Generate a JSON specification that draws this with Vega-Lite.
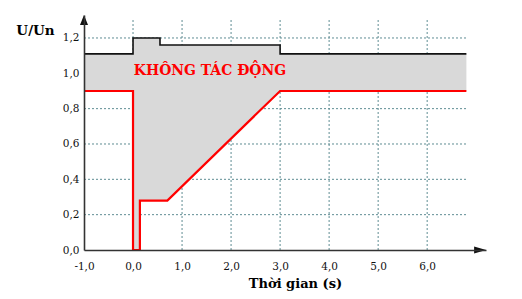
{
  "$schema": "https://vega.github.io/schema/vega-lite/v6.json",
  "width": 402,
  "height": 235,
  "autosize": {"type": "none"},
  "padding": {"left": 84, "top": 15, "right": 36, "bottom": 49},
  "background": "white",
  "config": {
    "view": {"stroke": null},
    "locale": {"number": {"decimal": ",", "thousands": ".", "grouping": [3], "currency": ["", ""], "minus": "-"}},
    "axis": {"labelOverlap": false, "labelFlush": false}
  },
  "datasets": {
    "curve": [
      {"i": 1, "t": -1, "lo": 0.9, "hi": 1.11},
      {"i": 2, "t": 0, "lo": 0.9, "hi": 1.11},
      {"i": 3, "t": 0, "lo": 0, "hi": 1.2},
      {"i": 4, "t": 0.14, "lo": 0, "hi": 1.2},
      {"i": 5, "t": 0.14, "lo": 0.28, "hi": 1.2},
      {"i": 6, "t": 0.55, "lo": 0.28, "hi": 1.2},
      {"i": 7, "t": 0.55, "lo": 0.28, "hi": 1.16},
      {"i": 8, "t": 0.7, "lo": 0.28, "hi": 1.16},
      {"i": 9, "t": 3, "lo": 0.9, "hi": 1.16},
      {"i": 10, "t": 3, "lo": 0.9, "hi": 1.11},
      {"i": 11, "t": 6.8, "lo": 0.9, "hi": 1.11}
    ],
    "vgrid": [{"g": 0}, {"g": 1}, {"g": 2}, {"g": 3}, {"g": 4}, {"g": 5}, {"g": 6}],
    "hgrid": [{"g": 0.2}, {"g": 0.4}, {"g": 0.6}, {"g": 0.8}, {"g": 1.0}, {"g": 1.2}]
  },
  "layer": [
    {
      "data": {"name": "hgrid"},
      "mark": {"type": "rule", "color": "#5f8d93", "strokeDash": [2, 2], "strokeWidth": 1},
      "encoding": {
        "y": {"field": "g", "type": "quantitative", "scale": {"domain": [0, 1.33], "nice": false, "zero": false},
          "axis": {"values": [0, 0.2, 0.4, 0.6, 0.8, 1.0, 1.2], "tickCount": 20, "format": ".1f",
            "labelOverlap": false, "grid": false, "ticks": false, "tickSize": 0, "domainColor": "#333333", "domainWidth": 1.6,
            "labelFont": "DejaVu Serif", "labelFontSize": 10.5, "labelColor": "#111111", "labelPadding": 5,
            "title": "U/Un", "titleFont": "DejaVu Serif", "titleFontSize": 13.5, "titleFontWeight": "bold",
            "titleColor": "#000000", "titleAngle": 0, "titleAlign": "center", "titleBaseline": "alphabetic",
            "titleX": -49, "titleY": 19, "zindex": 1}},
        "x": {"datum": -1, "type": "quantitative", "scale": {"domain": [-1, 7.2], "nice": false, "zero": false},
          "axis": {"values": [-1, 0, 1, 2, 3, 4, 5, 6], "tickCount": 20, "format": ".1f",
            "labelOverlap": false, "grid": false, "ticks": false, "tickSize": 0, "domainColor": "#333333", "domainWidth": 1.6,
            "labelFont": "DejaVu Serif", "labelFontSize": 10.5, "labelColor": "#111111", "labelPadding": 11,
            "title": "Thời gian (s)", "titleFont": "DejaVu Serif", "titleFontSize": 13, "titleFontWeight": "bold",
            "titleColor": "#000000", "titleAlign": "center", "titleBaseline": "alphabetic", "titleX": 211, "titleY": 37,
            "zindex": 1}},
        "x2": {"datum": 6.8}
      }
    },
    {
      "data": {"name": "vgrid"},
      "mark": {"type": "rule", "color": "#5f8d93", "strokeDash": [2, 2], "strokeWidth": 1},
      "encoding": {
        "x": {"field": "g", "type": "quantitative"},
        "y": {"datum": 0, "type": "quantitative"},
        "y2": {"datum": 1.31}
      }
    },
    {
      "data": {"name": "curve"},
      "mark": {"type": "area", "color": "#d9d9d9", "opacity": 1},
      "encoding": {
        "x": {"field": "t", "type": "quantitative"},
        "y": {"field": "lo", "type": "quantitative"},
        "y2": {"field": "hi"}
      }
    },
    {
      "data": {"name": "curve"},
      "mark": {"type": "line", "color": "#111111", "strokeWidth": 1.6},
      "encoding": {
        "x": {"field": "t", "type": "quantitative"},
        "y": {"field": "hi", "type": "quantitative"},
        "order": {"field": "i", "type": "quantitative"}
      }
    },
    {
      "data": {"name": "curve"},
      "mark": {"type": "line", "color": "#ff0000", "strokeWidth": 2.2},
      "encoding": {
        "x": {"field": "t", "type": "quantitative"},
        "y": {"field": "lo", "type": "quantitative"},
        "order": {"field": "i", "type": "quantitative"}
      }
    },
    {
      "data": {"values": [{}]},
      "mark": {"type": "text", "text": "KHÔNG TÁC ĐỘNG", "font": "DejaVu Serif Condensed", "fontSize": 15.5, "fontWeight": "bold", "color": "#ff0000", "align": "center", "baseline": "middle"},
      "encoding": {
        "x": {"datum": 1.57, "type": "quantitative"},
        "y": {"datum": 1.02, "type": "quantitative"}
      }
    },
    {
      "data": {"values": [{}]},
      "mark": {"type": "point", "shape": "M1,0L-1,-0.6L-1,0.6Z", "size": 144, "filled": true, "color": "#111111", "opacity": 1, "strokeWidth": 0},
      "encoding": {
        "x": {"datum": 7.08, "type": "quantitative"},
        "y": {"datum": 0, "type": "quantitative"}
      }
    },
    {
      "data": {"values": [{}]},
      "mark": {"type": "point", "shape": "M0,-1L-0.8,1L0.8,1Z", "size": 100, "filled": true, "color": "#111111", "opacity": 1, "strokeWidth": 0},
      "encoding": {
        "x": {"datum": -1, "type": "quantitative"},
        "y": {"datum": 1.302, "type": "quantitative"}
      }
    }
  ]
}
